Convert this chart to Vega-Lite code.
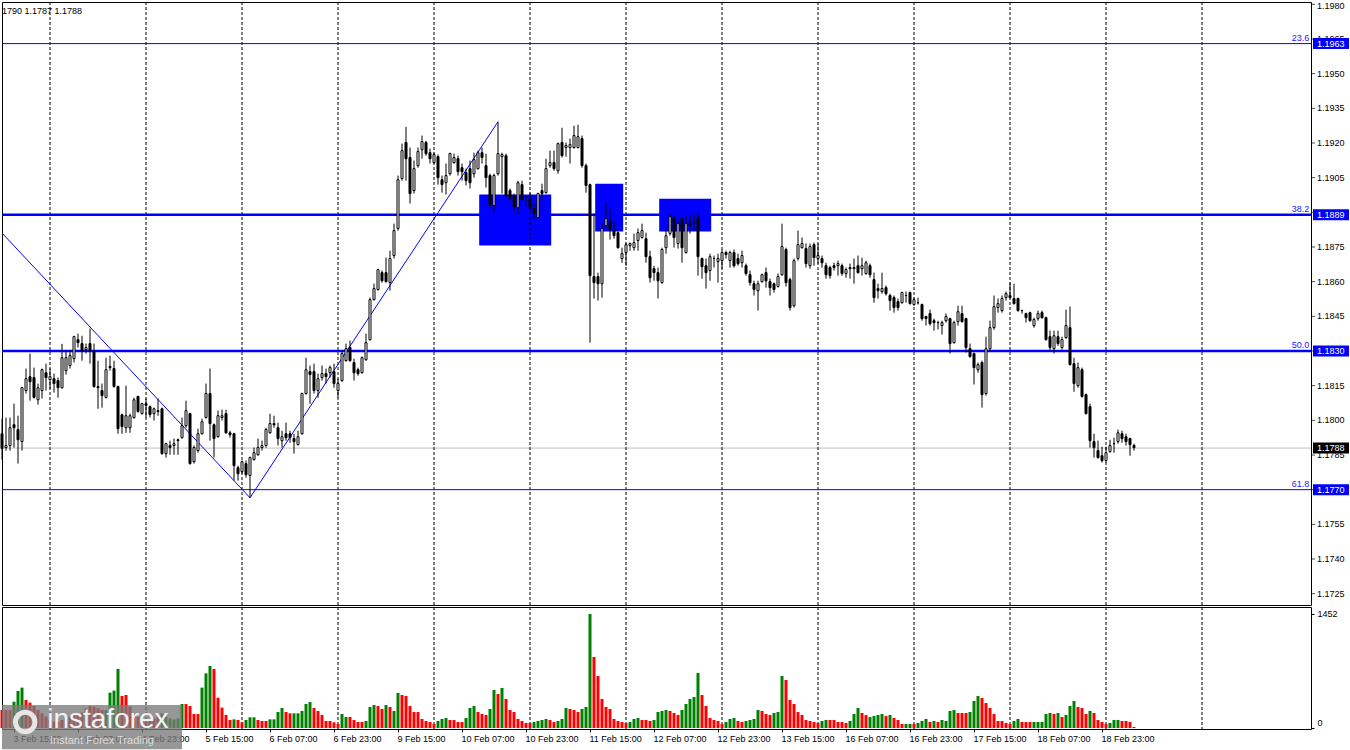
{
"$schema": "https://vega.github.io/schema/vega-lite/v6.json",
"background": "white",
"padding": {"left": 0, "top": 1, "right": 0, "bottom": 0},
"spacing": 0,
"config": {"font": "Liberation Sans", "view": {"stroke": "#000000", "strokeWidth": 1}, "scale": {"continuousPadding": 0}, "axis": {"labelFontSize": 9, "labelColor": "#000000", "tickColor": "#000000", "domain": false, "grid": false, "title": null, "labelOverlap": false}},
"datasets": {
"candles": [
{"i":0,"o":1.17942,"h":1.18007,"l":1.1783,"c":1.17878,"v":229,"g":0},
{"i":1,"o":1.17882,"h":1.18012,"l":1.17869,"c":1.17891,"v":229,"g":0},
{"i":2,"o":1.17891,"h":1.18012,"l":1.17869,"c":1.17968,"v":229,"g":0},
{"i":3,"o":1.17981,"h":1.18072,"l":1.17882,"c":1.17968,"v":335,"g":1},
{"i":4,"o":1.1796,"h":1.1802,"l":1.17813,"c":1.17916,"v":471,"g":1},
{"i":5,"o":1.17908,"h":1.18145,"l":1.17869,"c":1.18141,"v":514,"g":1},
{"i":6,"o":1.18129,"h":1.18224,"l":1.18116,"c":1.1818,"v":357,"g":0},
{"i":7,"o":1.18189,"h":1.18289,"l":1.18085,"c":1.18167,"v":323,"g":0},
{"i":8,"o":1.18185,"h":1.18228,"l":1.18094,"c":1.18099,"v":280,"g":0},
{"i":9,"o":1.18089,"h":1.18159,"l":1.18068,"c":1.18141,"v":229,"g":0},
{"i":10,"o":1.18129,"h":1.18224,"l":1.18094,"c":1.18219,"v":187,"g":0},
{"i":11,"o":1.18206,"h":1.18245,"l":1.18129,"c":1.18185,"v":144,"g":0},
{"i":12,"o":1.18176,"h":1.18224,"l":1.18137,"c":1.18189,"v":102,"g":0},
{"i":13,"o":1.1818,"h":1.18202,"l":1.1812,"c":1.18159,"v":81,"g":0},
{"i":14,"o":1.18172,"h":1.18185,"l":1.18098,"c":1.18141,"v":81,"g":0},
{"i":15,"o":1.18141,"h":1.18331,"l":1.18137,"c":1.18271,"v":102,"g":0},
{"i":16,"o":1.18215,"h":1.18302,"l":1.18198,"c":1.18271,"v":123,"g":0},
{"i":17,"o":1.18237,"h":1.18302,"l":1.18224,"c":1.1828,"v":144,"g":0},
{"i":18,"o":1.18267,"h":1.18366,"l":1.1825,"c":1.18362,"v":166,"g":0},
{"i":19,"o":1.18349,"h":1.18375,"l":1.18315,"c":1.18336,"v":187,"g":0},
{"i":20,"o":1.18332,"h":1.18366,"l":1.18258,"c":1.18302,"v":195,"g":0},
{"i":21,"o":1.18306,"h":1.18332,"l":1.18289,"c":1.18315,"v":251,"g":1},
{"i":22,"o":1.18332,"h":1.18397,"l":1.18245,"c":1.18302,"v":280,"g":0},
{"i":23,"o":1.18297,"h":1.18332,"l":1.18141,"c":1.18146,"v":272,"g":0},
{"i":24,"o":1.18146,"h":1.18258,"l":1.1805,"c":1.18141,"v":251,"g":0},
{"i":25,"o":1.18129,"h":1.18159,"l":1.18055,"c":1.18107,"v":229,"g":0},
{"i":26,"o":1.18099,"h":1.18271,"l":1.18094,"c":1.18219,"v":229,"g":1},
{"i":27,"o":1.18233,"h":1.1828,"l":1.18215,"c":1.18228,"v":450,"g":1},
{"i":28,"o":1.18224,"h":1.18258,"l":1.18141,"c":1.18146,"v":476,"g":1},
{"i":29,"o":1.18146,"h":1.1815,"l":1.17942,"c":1.17964,"v":752,"g":1},
{"i":30,"o":1.18024,"h":1.18029,"l":1.17942,"c":1.17973,"v":408,"g":0},
{"i":31,"o":1.17968,"h":1.1815,"l":1.17946,"c":1.1802,"v":420,"g":0},
{"i":32,"o":1.17968,"h":1.18029,"l":1.17946,"c":1.1802,"v":272,"g":0},
{"i":33,"o":1.18012,"h":1.18098,"l":1.18007,"c":1.18089,"v":187,"g":0},
{"i":34,"o":1.18103,"h":1.18107,"l":1.18033,"c":1.18038,"v":144,"g":0},
{"i":35,"o":1.18029,"h":1.18076,"l":1.18025,"c":1.18072,"v":102,"g":0},
{"i":36,"o":1.18072,"h":1.18094,"l":1.18012,"c":1.18064,"v":81,"g":0},
{"i":37,"o":1.18059,"h":1.18064,"l":1.18012,"c":1.18025,"v":102,"g":0},
{"i":38,"o":1.18029,"h":1.18055,"l":1.17999,"c":1.1805,"v":123,"g":0},
{"i":39,"o":1.18042,"h":1.18094,"l":1.1802,"c":1.18038,"v":144,"g":0},
{"i":40,"o":1.1805,"h":1.18055,"l":1.17851,"c":1.17856,"v":187,"g":1},
{"i":41,"o":1.17856,"h":1.17903,"l":1.17839,"c":1.17899,"v":144,"g":1},
{"i":42,"o":1.17891,"h":1.17912,"l":1.17851,"c":1.17882,"v":123,"g":1},
{"i":43,"o":1.17891,"h":1.17921,"l":1.17851,"c":1.17899,"v":110,"g":1},
{"i":44,"o":1.17916,"h":1.17921,"l":1.17851,"c":1.17912,"v":123,"g":1},
{"i":45,"o":1.17925,"h":1.18012,"l":1.17921,"c":1.17977,"v":306,"g":1},
{"i":46,"o":1.17977,"h":1.18085,"l":1.17968,"c":1.18042,"v":306,"g":0},
{"i":47,"o":1.18029,"h":1.18033,"l":1.17808,"c":1.17813,"v":280,"g":0},
{"i":48,"o":1.17821,"h":1.17891,"l":1.17813,"c":1.17882,"v":178,"g":0},
{"i":49,"o":1.17869,"h":1.17964,"l":1.1786,"c":1.17942,"v":178,"g":0},
{"i":50,"o":1.17942,"h":1.18007,"l":1.17938,"c":1.17994,"v":514,"g":1},
{"i":51,"o":1.18012,"h":1.18159,"l":1.18007,"c":1.18116,"v":696,"g":1},
{"i":52,"o":1.18116,"h":1.18224,"l":1.17912,"c":1.17986,"v":790,"g":1},
{"i":53,"o":1.17981,"h":1.17986,"l":1.17839,"c":1.17921,"v":752,"g":0},
{"i":54,"o":1.17929,"h":1.18042,"l":1.17925,"c":1.1802,"v":386,"g":0},
{"i":55,"o":1.18012,"h":1.18046,"l":1.17999,"c":1.1802,"v":259,"g":0},
{"i":56,"o":1.18029,"h":1.18046,"l":1.17942,"c":1.17946,"v":166,"g":0},
{"i":57,"o":1.17946,"h":1.17955,"l":1.17925,"c":1.17938,"v":102,"g":0},
{"i":58,"o":1.17942,"h":1.17946,"l":1.17739,"c":1.17804,"v":110,"g":1},
{"i":59,"o":1.17795,"h":1.17804,"l":1.17739,"c":1.17769,"v":102,"g":0},
{"i":60,"o":1.17778,"h":1.17826,"l":1.17769,"c":1.17821,"v":72,"g":0},
{"i":61,"o":1.17813,"h":1.17826,"l":1.17752,"c":1.17765,"v":102,"g":1},
{"i":62,"o":1.17761,"h":1.17843,"l":1.17665,"c":1.17839,"v":136,"g":1},
{"i":63,"o":1.1783,"h":1.17882,"l":1.17826,"c":1.1786,"v":136,"g":1},
{"i":64,"o":1.17851,"h":1.17921,"l":1.17847,"c":1.17882,"v":102,"g":0},
{"i":65,"o":1.17882,"h":1.17912,"l":1.17869,"c":1.17891,"v":89,"g":0},
{"i":66,"o":1.17891,"h":1.17968,"l":1.17882,"c":1.1796,"v":89,"g":0},
{"i":67,"o":1.17946,"h":1.18029,"l":1.17942,"c":1.17986,"v":110,"g":1},
{"i":68,"o":1.17986,"h":1.1802,"l":1.17968,"c":1.17981,"v":110,"g":1},
{"i":69,"o":1.17968,"h":1.1799,"l":1.17891,"c":1.17921,"v":204,"g":1},
{"i":70,"o":1.17912,"h":1.17955,"l":1.17882,"c":1.17929,"v":255,"g":1},
{"i":71,"o":1.17942,"h":1.1799,"l":1.17912,"c":1.17925,"v":204,"g":0},
{"i":72,"o":1.17942,"h":1.17955,"l":1.17903,"c":1.17925,"v":187,"g":0},
{"i":73,"o":1.17921,"h":1.17942,"l":1.17856,"c":1.17908,"v":187,"g":1},
{"i":74,"o":1.17895,"h":1.17955,"l":1.17891,"c":1.17929,"v":187,"g":1},
{"i":75,"o":1.17942,"h":1.1812,"l":1.17938,"c":1.18116,"v":217,"g":1},
{"i":76,"o":1.18116,"h":1.18271,"l":1.18111,"c":1.18219,"v":306,"g":1},
{"i":77,"o":1.18211,"h":1.18237,"l":1.18072,"c":1.18198,"v":331,"g":1},
{"i":78,"o":1.18211,"h":1.18245,"l":1.18116,"c":1.18129,"v":255,"g":0},
{"i":79,"o":1.18129,"h":1.18202,"l":1.18098,"c":1.1818,"v":217,"g":0},
{"i":80,"o":1.18185,"h":1.18237,"l":1.18172,"c":1.18202,"v":166,"g":0},
{"i":81,"o":1.18202,"h":1.18224,"l":1.18159,"c":1.18189,"v":89,"g":0},
{"i":82,"o":1.18206,"h":1.18237,"l":1.18185,"c":1.18228,"v":89,"g":0},
{"i":83,"o":1.18211,"h":1.18245,"l":1.18141,"c":1.18159,"v":72,"g":0},
{"i":84,"o":1.18129,"h":1.1818,"l":1.18098,"c":1.18159,"v":51,"g":0},
{"i":85,"o":1.18172,"h":1.18302,"l":1.18167,"c":1.18289,"v":178,"g":1},
{"i":86,"o":1.18258,"h":1.18332,"l":1.18254,"c":1.1831,"v":140,"g":1},
{"i":87,"o":1.18315,"h":1.18345,"l":1.18254,"c":1.18258,"v":140,"g":0},
{"i":88,"o":1.1825,"h":1.18267,"l":1.18172,"c":1.18206,"v":102,"g":0},
{"i":89,"o":1.18219,"h":1.18228,"l":1.18193,"c":1.18202,"v":76,"g":0},
{"i":90,"o":1.18206,"h":1.18276,"l":1.18202,"c":1.18271,"v":76,"g":0},
{"i":91,"o":1.18262,"h":1.18375,"l":1.18258,"c":1.18336,"v":89,"g":1},
{"i":92,"o":1.18349,"h":1.18531,"l":1.18345,"c":1.18522,"v":267,"g":1},
{"i":93,"o":1.18522,"h":1.18591,"l":1.18518,"c":1.1857,"v":293,"g":1},
{"i":94,"o":1.18566,"h":1.18656,"l":1.18561,"c":1.18652,"v":280,"g":0},
{"i":95,"o":1.18639,"h":1.18648,"l":1.18596,"c":1.18604,"v":242,"g":0},
{"i":96,"o":1.18639,"h":1.18704,"l":1.18596,"c":1.186,"v":293,"g":1},
{"i":97,"o":1.18596,"h":1.18734,"l":1.18561,"c":1.187,"v":267,"g":0},
{"i":98,"o":1.18713,"h":1.18851,"l":1.187,"c":1.18821,"v":217,"g":1},
{"i":99,"o":1.1883,"h":1.19059,"l":1.18821,"c":1.19041,"v":446,"g":1},
{"i":100,"o":1.19046,"h":1.19197,"l":1.19037,"c":1.19167,"v":420,"g":0},
{"i":101,"o":1.19202,"h":1.1927,"l":1.19037,"c":1.19132,"v":408,"g":0},
{"i":102,"o":1.19137,"h":1.1918,"l":1.18938,"c":1.18981,"v":280,"g":0},
{"i":103,"o":1.18994,"h":1.19124,"l":1.18981,"c":1.19089,"v":204,"g":0},
{"i":104,"o":1.19102,"h":1.1918,"l":1.19093,"c":1.19163,"v":204,"g":0},
{"i":105,"o":1.19171,"h":1.19232,"l":1.19132,"c":1.19206,"v":115,"g":0},
{"i":106,"o":1.19202,"h":1.1921,"l":1.19145,"c":1.19154,"v":89,"g":0},
{"i":107,"o":1.19158,"h":1.19176,"l":1.19111,"c":1.19132,"v":76,"g":0},
{"i":108,"o":1.19115,"h":1.19158,"l":1.19111,"c":1.1915,"v":51,"g":0},
{"i":109,"o":1.19141,"h":1.1915,"l":1.1902,"c":1.1905,"v":89,"g":1},
{"i":110,"o":1.19041,"h":1.19059,"l":1.18985,"c":1.1902,"v":115,"g":1},
{"i":111,"o":1.19028,"h":1.19111,"l":1.18977,"c":1.19059,"v":127,"g":1},
{"i":112,"o":1.19067,"h":1.19158,"l":1.19059,"c":1.19154,"v":102,"g":0},
{"i":113,"o":1.19115,"h":1.19154,"l":1.19111,"c":1.19137,"v":102,"g":0},
{"i":114,"o":1.19132,"h":1.19145,"l":1.19059,"c":1.19076,"v":76,"g":0},
{"i":115,"o":1.19093,"h":1.19111,"l":1.19037,"c":1.19076,"v":76,"g":0},
{"i":116,"o":1.19072,"h":1.19089,"l":1.19016,"c":1.19037,"v":127,"g":1},
{"i":117,"o":1.19089,"h":1.19124,"l":1.19003,"c":1.19028,"v":255,"g":1},
{"i":118,"o":1.19067,"h":1.19158,"l":1.1905,"c":1.19128,"v":280,"g":1},
{"i":119,"o":1.19089,"h":1.19167,"l":1.19085,"c":1.19158,"v":204,"g":0},
{"i":120,"o":1.19158,"h":1.1918,"l":1.19111,"c":1.19137,"v":178,"g":0},
{"i":121,"o":1.19102,"h":1.19154,"l":1.19007,"c":1.1905,"v":166,"g":0},
{"i":122,"o":1.19059,"h":1.19067,"l":1.1892,"c":1.18929,"v":242,"g":1},
{"i":123,"o":1.18929,"h":1.19067,"l":1.18899,"c":1.19059,"v":484,"g":1},
{"i":124,"o":1.19067,"h":1.19292,"l":1.19059,"c":1.19154,"v":433,"g":0},
{"i":125,"o":1.19141,"h":1.19158,"l":1.18981,"c":1.1915,"v":510,"g":1},
{"i":126,"o":1.19145,"h":1.19154,"l":1.18964,"c":1.18972,"v":369,"g":0},
{"i":127,"o":1.18994,"h":1.19003,"l":1.18951,"c":1.1896,"v":229,"g":0},
{"i":128,"o":1.18972,"h":1.18981,"l":1.18907,"c":1.18925,"v":204,"g":0},
{"i":129,"o":1.1892,"h":1.19037,"l":1.1889,"c":1.19028,"v":115,"g":0},
{"i":130,"o":1.1902,"h":1.19037,"l":1.18951,"c":1.18955,"v":89,"g":0},
{"i":131,"o":1.18955,"h":1.18972,"l":1.18929,"c":1.18955,"v":64,"g":0},
{"i":132,"o":1.1896,"h":1.18985,"l":1.18907,"c":1.1892,"v":64,"g":0},
{"i":133,"o":1.18916,"h":1.18938,"l":1.18873,"c":1.18894,"v":76,"g":1},
{"i":134,"o":1.18877,"h":1.18985,"l":1.18873,"c":1.18981,"v":89,"g":1},
{"i":135,"o":1.18994,"h":1.19024,"l":1.18951,"c":1.18981,"v":102,"g":1},
{"i":136,"o":1.18985,"h":1.19132,"l":1.18981,"c":1.19089,"v":115,"g":1},
{"i":137,"o":1.19102,"h":1.19167,"l":1.19093,"c":1.19115,"v":102,"g":0},
{"i":138,"o":1.19115,"h":1.19167,"l":1.1908,"c":1.19089,"v":76,"g":0},
{"i":139,"o":1.1908,"h":1.19202,"l":1.19067,"c":1.19197,"v":89,"g":1},
{"i":140,"o":1.19202,"h":1.19266,"l":1.19137,"c":1.19145,"v":115,"g":1},
{"i":141,"o":1.1918,"h":1.19202,"l":1.19141,"c":1.19189,"v":255,"g":1},
{"i":142,"o":1.1918,"h":1.19219,"l":1.19111,"c":1.19193,"v":242,"g":0},
{"i":143,"o":1.1918,"h":1.19275,"l":1.19176,"c":1.19232,"v":229,"g":0},
{"i":144,"o":1.1918,"h":1.19279,"l":1.19176,"c":1.19227,"v":204,"g":0},
{"i":145,"o":1.19219,"h":1.19232,"l":1.19093,"c":1.19102,"v":242,"g":1},
{"i":146,"o":1.19102,"h":1.19111,"l":1.18985,"c":1.19016,"v":267,"g":1},
{"i":147,"o":1.1902,"h":1.19024,"l":1.18336,"c":1.18626,"v":1452,"g":1},
{"i":148,"o":1.18622,"h":1.18894,"l":1.18527,"c":1.18596,"v":904,"g":0},
{"i":149,"o":1.18622,"h":1.18639,"l":1.18518,"c":1.18591,"v":662,"g":0},
{"i":150,"o":1.18591,"h":1.18851,"l":1.18531,"c":1.1883,"v":369,"g":0},
{"i":151,"o":1.18843,"h":1.18942,"l":1.18834,"c":1.18873,"v":267,"g":0},
{"i":152,"o":1.1886,"h":1.18916,"l":1.18782,"c":1.18825,"v":242,"g":0},
{"i":153,"o":1.18821,"h":1.18864,"l":1.18786,"c":1.18799,"v":115,"g":0},
{"i":154,"o":1.18812,"h":1.18817,"l":1.18743,"c":1.18747,"v":89,"g":0},
{"i":155,"o":1.187,"h":1.18747,"l":1.18682,"c":1.18721,"v":76,"g":0},
{"i":156,"o":1.18726,"h":1.18769,"l":1.18669,"c":1.1876,"v":64,"g":0},
{"i":157,"o":1.18756,"h":1.18769,"l":1.18734,"c":1.18765,"v":76,"g":1},
{"i":158,"o":1.18747,"h":1.18808,"l":1.18734,"c":1.18769,"v":115,"g":1},
{"i":159,"o":1.18778,"h":1.1883,"l":1.18734,"c":1.18812,"v":127,"g":1},
{"i":160,"o":1.18791,"h":1.18851,"l":1.18786,"c":1.18821,"v":102,"g":0},
{"i":161,"o":1.18786,"h":1.18812,"l":1.18682,"c":1.18708,"v":102,"g":0},
{"i":162,"o":1.18708,"h":1.18734,"l":1.18596,"c":1.18617,"v":89,"g":0},
{"i":163,"o":1.18656,"h":1.18669,"l":1.18604,"c":1.18639,"v":102,"g":1},
{"i":164,"o":1.18639,"h":1.18661,"l":1.18527,"c":1.18604,"v":204,"g":1},
{"i":165,"o":1.18596,"h":1.18747,"l":1.18591,"c":1.18739,"v":217,"g":1},
{"i":166,"o":1.18747,"h":1.1883,"l":1.18721,"c":1.18799,"v":229,"g":1},
{"i":167,"o":1.18808,"h":1.18894,"l":1.18799,"c":1.18881,"v":217,"g":0},
{"i":168,"o":1.18877,"h":1.18886,"l":1.18747,"c":1.18791,"v":191,"g":0},
{"i":169,"o":1.18765,"h":1.18864,"l":1.18743,"c":1.18851,"v":166,"g":0},
{"i":170,"o":1.18873,"h":1.18877,"l":1.18682,"c":1.18747,"v":229,"g":1},
{"i":171,"o":1.18726,"h":1.18886,"l":1.18721,"c":1.18851,"v":306,"g":1},
{"i":172,"o":1.18855,"h":1.18886,"l":1.18808,"c":1.18843,"v":369,"g":1},
{"i":173,"o":1.18851,"h":1.18894,"l":1.18821,"c":1.18855,"v":395,"g":1},
{"i":174,"o":1.18877,"h":1.18894,"l":1.18626,"c":1.18708,"v":701,"g":1},
{"i":175,"o":1.187,"h":1.18704,"l":1.18613,"c":1.18665,"v":420,"g":0},
{"i":176,"o":1.18669,"h":1.187,"l":1.1857,"c":1.18639,"v":280,"g":0},
{"i":177,"o":1.18648,"h":1.18721,"l":1.18604,"c":1.18708,"v":127,"g":0},
{"i":178,"o":1.187,"h":1.18713,"l":1.18661,"c":1.187,"v":102,"g":0},
{"i":179,"o":1.18687,"h":1.18721,"l":1.18596,"c":1.187,"v":89,"g":0},
{"i":180,"o":1.18691,"h":1.18739,"l":1.18656,"c":1.18726,"v":51,"g":0},
{"i":181,"o":1.18726,"h":1.18734,"l":1.187,"c":1.18717,"v":76,"g":1},
{"i":182,"o":1.18691,"h":1.18734,"l":1.18661,"c":1.18726,"v":115,"g":1},
{"i":183,"o":1.18726,"h":1.18739,"l":1.18661,"c":1.18669,"v":127,"g":1},
{"i":184,"o":1.187,"h":1.18721,"l":1.18669,"c":1.18678,"v":89,"g":0},
{"i":185,"o":1.18682,"h":1.18734,"l":1.18661,"c":1.18713,"v":76,"g":0},
{"i":186,"o":1.18669,"h":1.18678,"l":1.18626,"c":1.18635,"v":89,"g":1},
{"i":187,"o":1.1863,"h":1.18648,"l":1.18583,"c":1.18596,"v":102,"g":1},
{"i":188,"o":1.18591,"h":1.18604,"l":1.1854,"c":1.18566,"v":115,"g":1},
{"i":189,"o":1.18561,"h":1.18604,"l":1.18475,"c":1.18591,"v":229,"g":1},
{"i":190,"o":1.186,"h":1.18635,"l":1.18596,"c":1.1863,"v":217,"g":0},
{"i":191,"o":1.18639,"h":1.18661,"l":1.18574,"c":1.18604,"v":178,"g":0},
{"i":192,"o":1.186,"h":1.18613,"l":1.1854,"c":1.18574,"v":166,"g":0},
{"i":193,"o":1.18591,"h":1.18596,"l":1.18553,"c":1.18566,"v":191,"g":1},
{"i":194,"o":1.18579,"h":1.18635,"l":1.18574,"c":1.18622,"v":204,"g":1},
{"i":195,"o":1.1863,"h":1.18851,"l":1.18626,"c":1.18752,"v":662,"g":1},
{"i":196,"o":1.18739,"h":1.18747,"l":1.18579,"c":1.18596,"v":611,"g":0},
{"i":197,"o":1.18609,"h":1.18617,"l":1.18475,"c":1.18488,"v":357,"g":0},
{"i":198,"o":1.18496,"h":1.187,"l":1.18488,"c":1.18691,"v":306,"g":0},
{"i":199,"o":1.187,"h":1.18821,"l":1.18691,"c":1.1876,"v":204,"g":0},
{"i":200,"o":1.18747,"h":1.18791,"l":1.18743,"c":1.18765,"v":166,"g":0},
{"i":201,"o":1.18743,"h":1.18765,"l":1.18661,"c":1.18678,"v":102,"g":0},
{"i":202,"o":1.18669,"h":1.18765,"l":1.18656,"c":1.18752,"v":89,"g":0},
{"i":203,"o":1.1876,"h":1.18769,"l":1.18669,"c":1.18704,"v":76,"g":0},
{"i":204,"o":1.187,"h":1.18765,"l":1.18678,"c":1.18713,"v":64,"g":0},
{"i":205,"o":1.187,"h":1.18713,"l":1.18661,"c":1.18682,"v":89,"g":1},
{"i":206,"o":1.18669,"h":1.18682,"l":1.18613,"c":1.1863,"v":102,"g":1},
{"i":207,"o":1.18661,"h":1.18669,"l":1.18613,"c":1.18626,"v":102,"g":0},
{"i":208,"o":1.18669,"h":1.18682,"l":1.18648,"c":1.18661,"v":102,"g":0},
{"i":209,"o":1.18669,"h":1.18691,"l":1.18626,"c":1.18678,"v":76,"g":0},
{"i":210,"o":1.18669,"h":1.18678,"l":1.18626,"c":1.18635,"v":76,"g":0},
{"i":211,"o":1.18635,"h":1.18661,"l":1.18617,"c":1.18652,"v":64,"g":0},
{"i":212,"o":1.18661,"h":1.18678,"l":1.18613,"c":1.18656,"v":89,"g":1},
{"i":213,"o":1.18656,"h":1.187,"l":1.18591,"c":1.18661,"v":178,"g":1},
{"i":214,"o":1.18669,"h":1.18713,"l":1.18635,"c":1.18639,"v":255,"g":1},
{"i":215,"o":1.18656,"h":1.18704,"l":1.18626,"c":1.18669,"v":191,"g":0},
{"i":216,"o":1.18635,"h":1.18691,"l":1.1863,"c":1.18682,"v":166,"g":0},
{"i":217,"o":1.18669,"h":1.18678,"l":1.18617,"c":1.1863,"v":140,"g":1},
{"i":218,"o":1.18609,"h":1.18639,"l":1.18509,"c":1.18531,"v":153,"g":1},
{"i":219,"o":1.1857,"h":1.18591,"l":1.18527,"c":1.18561,"v":166,"g":1},
{"i":220,"o":1.18557,"h":1.18639,"l":1.18548,"c":1.1857,"v":178,"g":1},
{"i":221,"o":1.18574,"h":1.18583,"l":1.1854,"c":1.18548,"v":153,"g":0},
{"i":222,"o":1.1854,"h":1.18548,"l":1.18475,"c":1.18518,"v":166,"g":1},
{"i":223,"o":1.18531,"h":1.1854,"l":1.18466,"c":1.18488,"v":127,"g":0},
{"i":224,"o":1.18514,"h":1.18527,"l":1.18475,"c":1.18488,"v":102,"g":0},
{"i":225,"o":1.18509,"h":1.18557,"l":1.18505,"c":1.18553,"v":51,"g":0},
{"i":226,"o":1.1854,"h":1.18557,"l":1.18509,"c":1.1854,"v":51,"g":1},
{"i":227,"o":1.18553,"h":1.18557,"l":1.18501,"c":1.18505,"v":51,"g":1},
{"i":228,"o":1.18501,"h":1.18531,"l":1.18496,"c":1.18522,"v":51,"g":0},
{"i":229,"o":1.18509,"h":1.18531,"l":1.18501,"c":1.18509,"v":64,"g":1},
{"i":230,"o":1.18501,"h":1.18505,"l":1.18431,"c":1.1844,"v":89,"g":1},
{"i":231,"o":1.18449,"h":1.18453,"l":1.1841,"c":1.1844,"v":115,"g":1},
{"i":232,"o":1.18462,"h":1.18479,"l":1.1841,"c":1.18418,"v":76,"g":0},
{"i":233,"o":1.18431,"h":1.1844,"l":1.18388,"c":1.18423,"v":89,"g":1},
{"i":234,"o":1.18423,"h":1.18431,"l":1.18393,"c":1.18423,"v":76,"g":0},
{"i":235,"o":1.1841,"h":1.18431,"l":1.18371,"c":1.18423,"v":102,"g":1},
{"i":236,"o":1.18431,"h":1.18462,"l":1.18423,"c":1.18449,"v":89,"g":1},
{"i":237,"o":1.1844,"h":1.18444,"l":1.18289,"c":1.18332,"v":217,"g":1},
{"i":238,"o":1.18336,"h":1.18431,"l":1.18332,"c":1.18423,"v":229,"g":1},
{"i":239,"o":1.18427,"h":1.18496,"l":1.1841,"c":1.1847,"v":191,"g":0},
{"i":240,"o":1.18462,"h":1.18496,"l":1.18423,"c":1.18427,"v":191,"g":0},
{"i":241,"o":1.1844,"h":1.18444,"l":1.18293,"c":1.18315,"v":191,"g":0},
{"i":242,"o":1.1831,"h":1.18332,"l":1.18271,"c":1.18276,"v":204,"g":1},
{"i":243,"o":1.18289,"h":1.18293,"l":1.18155,"c":1.18228,"v":344,"g":1},
{"i":244,"o":1.18219,"h":1.1825,"l":1.18206,"c":1.18241,"v":408,"g":1},
{"i":245,"o":1.1825,"h":1.18258,"l":1.18055,"c":1.18111,"v":382,"g":0},
{"i":246,"o":1.18116,"h":1.18362,"l":1.18107,"c":1.1831,"v":318,"g":0},
{"i":247,"o":1.1831,"h":1.18431,"l":1.18297,"c":1.18401,"v":255,"g":0},
{"i":248,"o":1.18401,"h":1.1854,"l":1.18392,"c":1.18492,"v":178,"g":0},
{"i":249,"o":1.18488,"h":1.18527,"l":1.18466,"c":1.18505,"v":89,"g":0},
{"i":250,"o":1.18475,"h":1.1854,"l":1.18466,"c":1.18527,"v":89,"g":0},
{"i":251,"o":1.18531,"h":1.18557,"l":1.18518,"c":1.18548,"v":64,"g":0},
{"i":252,"o":1.1854,"h":1.18596,"l":1.18527,"c":1.18531,"v":51,"g":0},
{"i":253,"o":1.18527,"h":1.18591,"l":1.18501,"c":1.18505,"v":89,"g":1},
{"i":254,"o":1.18527,"h":1.18531,"l":1.1847,"c":1.18475,"v":115,"g":1},
{"i":255,"o":1.18475,"h":1.18479,"l":1.18462,"c":1.18475,"v":76,"g":0},
{"i":256,"o":1.18462,"h":1.18466,"l":1.18423,"c":1.18444,"v":76,"g":0},
{"i":257,"o":1.18466,"h":1.1847,"l":1.18427,"c":1.18431,"v":76,"g":0},
{"i":258,"o":1.1841,"h":1.18444,"l":1.18401,"c":1.18436,"v":76,"g":1},
{"i":259,"o":1.1844,"h":1.18475,"l":1.18431,"c":1.18462,"v":76,"g":1},
{"i":260,"o":1.18466,"h":1.18475,"l":1.1844,"c":1.18444,"v":76,"g":1},
{"i":261,"o":1.18444,"h":1.18449,"l":1.18345,"c":1.18349,"v":178,"g":1},
{"i":262,"o":1.18362,"h":1.18388,"l":1.18302,"c":1.18315,"v":191,"g":1},
{"i":263,"o":1.1831,"h":1.18388,"l":1.18289,"c":1.18366,"v":178,"g":0},
{"i":264,"o":1.18362,"h":1.18388,"l":1.18323,"c":1.18332,"v":191,"g":1},
{"i":265,"o":1.18315,"h":1.18362,"l":1.18306,"c":1.18349,"v":140,"g":0},
{"i":266,"o":1.18358,"h":1.18479,"l":1.18353,"c":1.1841,"v":166,"g":1},
{"i":267,"o":1.18401,"h":1.18492,"l":1.18237,"c":1.18241,"v":280,"g":1},
{"i":268,"o":1.18245,"h":1.18271,"l":1.18124,"c":1.18159,"v":344,"g":1},
{"i":269,"o":1.1815,"h":1.1825,"l":1.18141,"c":1.18228,"v":267,"g":0},
{"i":270,"o":1.18219,"h":1.18228,"l":1.18098,"c":1.18103,"v":255,"g":0},
{"i":271,"o":1.18111,"h":1.18116,"l":1.18025,"c":1.18029,"v":178,"g":0},
{"i":272,"o":1.18059,"h":1.18072,"l":1.17882,"c":1.17912,"v":217,"g":1},
{"i":273,"o":1.17908,"h":1.17942,"l":1.17839,"c":1.17882,"v":191,"g":0},
{"i":274,"o":1.17869,"h":1.17912,"l":1.17834,"c":1.17839,"v":102,"g":0},
{"i":275,"o":1.17847,"h":1.17886,"l":1.17817,"c":1.17826,"v":76,"g":0},
{"i":276,"o":1.17826,"h":1.17886,"l":1.17817,"c":1.1786,"v":51,"g":0},
{"i":277,"o":1.17865,"h":1.17916,"l":1.1786,"c":1.17891,"v":64,"g":1},
{"i":278,"o":1.17899,"h":1.17925,"l":1.1786,"c":1.17899,"v":102,"g":1},
{"i":279,"o":1.17908,"h":1.1796,"l":1.17899,"c":1.17946,"v":102,"g":1},
{"i":280,"o":1.17942,"h":1.17955,"l":1.17903,"c":1.17921,"v":89,"g":0},
{"i":281,"o":1.17929,"h":1.17942,"l":1.17891,"c":1.17908,"v":89,"g":0},
{"i":282,"o":1.17921,"h":1.17925,"l":1.17847,"c":1.17895,"v":76,"g":0},
{"i":283,"o":1.17891,"h":1.17899,"l":1.17869,"c":1.17882,"v":13,"g":0}
],
"grid": [{"k":12},{"k":36},{"k":60},{"k":84},{"k":108},{"k":132},{"k":156},{"k":180},{"k":204},{"k":228},{"k":252},{"k":276},{"k":300}],
"fib": [{"p":1.1963,"lbl":"23.6"},{"p":1.1889,"lbl":"38.2"},{"p":1.183,"lbl":"50.0"},{"p":1.177,"lbl":"61.8"}],
"tags": [{"p":1.1963},{"p":1.1889},{"p":1.183},{"p":1.177},{"p":1.1788}],
"ticks": [{"p":1.1725},{"p":1.174},{"p":1.1755},{"p":1.177},{"p":1.1785},{"p":1.18},{"p":1.1815},{"p":1.183},{"p":1.1845},{"p":1.186},{"p":1.1875},{"p":1.189},{"p":1.1905},{"p":1.192},{"p":1.1935},{"p":1.195},{"p":1.1965},{"p":1.198}],
"zigzag": [{"i":-1,"p":1.18829},{"i":62,"p":1.17665},{"i":124,"p":1.19292}],
"zones": [{"i1":119.3,"i2":137.3,"p1":1.18977,"p2":1.18756},{"i1":148.3,"i2":155.3,"p1":1.19024,"p2":1.18817},{"i1":164.3,"i2":177.3,"p1":1.18959,"p2":1.18817}]
},
"vconcat": [
{
"width": 1309,
"height": 603,
"resolve": {"axis": {"x": "independent", "y": "independent"}},
"layer": [
{"data": {"name": "zones"}, "mark": {"type": "rect", "fill": "#0000ff", "clip": true},
 "encoding": {"x": {"field": "i1", "type": "quantitative", "scale": {"domain": [0, 327.25], "nice": false, "zero": false, "padding": 0}, "axis": null}, "x2": {"field": "i2"},
  "y": {"field": "p1", "type": "quantitative", "scale": {"domain": [1.17201, 1.1981], "nice": false, "zero": false, "padding": 0}, "axis": null}, "y2": {"field": "p2"}}},
{"data": {"values": [{"p": 1.1788}]}, "mark": {"type": "rule", "color": "#c0c0c0", "strokeWidth": 1},
 "encoding": {"y": {"field": "p", "type": "quantitative", "scale": {"domain": [1.17201, 1.1981], "nice": false, "zero": false, "padding": 0}, "axis": null}}},
{"data": {"name": "grid"}, "mark": {"type": "rule", "color": "#000000", "strokeWidth": 1, "strokeDash": [3, 2]},
 "encoding": {"x": {"field": "k", "type": "quantitative", "scale": {"domain": [0, 327.25], "nice": false, "zero": false, "padding": 0}, "axis": null}}},
{"data": {"name": "fib"}, "mark": {"type": "rule", "color": "#0000ff"},
 "encoding": {"y": {"field": "p", "type": "quantitative", "scale": {"domain": [1.17201, 1.1981], "nice": false, "zero": false, "padding": 0}, "axis": null},
  "strokeWidth": {"condition": {"test": "datum.lbl == '38.2' || datum.lbl == '50.0'", "value": 2.5}, "value": 1}}},
{"data": {"name": "zigzag"}, "mark": {"type": "line", "color": "#0000ff", "strokeWidth": 1, "clip": true},
 "encoding": {"x": {"field": "i", "type": "quantitative", "scale": {"domain": [0, 327.25], "nice": false, "zero": false, "padding": 0}, "axis": null},
  "y": {"field": "p", "type": "quantitative", "scale": {"domain": [1.17201, 1.1981], "nice": false, "zero": false, "padding": 0}, "axis": null}, "order": {"field": "i"}}},
{"data": {"name": "candles"}, "mark": {"type": "rule", "color": "#000000", "strokeWidth": 1},
 "encoding": {"x": {"field": "i", "type": "quantitative", "scale": {"domain": [0, 327.25], "nice": false, "zero": false, "padding": 0}, "axis": null},
  "y": {"field": "l", "type": "quantitative", "scale": {"domain": [1.17201, 1.1981], "nice": false, "zero": false, "padding": 0}, "axis": null}, "y2": {"field": "h"}}},
{"data": {"name": "candles"}, "mark": {"type": "bar", "orient": "vertical", "width": 2, "stroke": "#000000", "strokeWidth": 1},
 "encoding": {"x": {"field": "i", "type": "quantitative", "scale": {"domain": [0, 327.25], "nice": false, "zero": false, "padding": 0}, "axis": null},
  "y": {"field": "o", "type": "quantitative", "scale": {"domain": [1.17201, 1.1981], "nice": false, "zero": false, "padding": 0}, "axis": null},
  "y2": {"field": "c"},
  "fill": {"condition": {"test": "datum.c > datum.o", "value": "#ffffff"}, "value": "#000000"}}},
{"data": {"name": "ticks"}, "transform": [{"filter": "datum.p < 1.197 && datum.p != 1.177 && datum.p != 1.183 && datum.p != 1.189"}],
 "mark": {"type": "text", "align": "left", "baseline": "middle", "color": "#000000", "fontSize": 9, "clip": false},
 "encoding": {"x": {"datum": 328.75, "type": "quantitative", "scale": {"domain": [0, 327.25], "nice": false, "zero": false, "padding": 0}, "axis": null},
  "y": {"field": "p", "type": "quantitative", "scale": {"domain": [1.17201, 1.1981], "nice": false, "zero": false, "padding": 0}, "axis": null},
  "text": {"field": "p", "type": "quantitative", "format": ".4f"}}},
{"data": {"name": "ticks"}, "transform": [{"filter": "datum.p > 1.197"}],
 "mark": {"type": "text", "align": "left", "baseline": "top", "dy": -2, "color": "#000000", "fontSize": 9, "clip": false},
 "encoding": {"x": {"datum": 328.75, "type": "quantitative", "scale": {"domain": [0, 327.25], "nice": false, "zero": false, "padding": 0}, "axis": null},
  "y": {"field": "p", "type": "quantitative", "scale": {"domain": [1.17201, 1.1981], "nice": false, "zero": false, "padding": 0}, "axis": null},
  "text": {"field": "p", "type": "quantitative", "format": ".4f"}}},
{"data": {"name": "ticks"}, "mark": {"type": "tick", "orient": "horizontal", "thickness": 1, "size": 4, "color": "#000000", "clip": false},
 "encoding": {"x": {"datum": 327.75, "type": "quantitative", "scale": {"domain": [0, 327.25], "nice": false, "zero": false, "padding": 0}, "axis": null},
  "y": {"field": "p", "type": "quantitative", "scale": {"domain": [1.17201, 1.1981], "nice": false, "zero": false, "padding": 0}, "axis": null}}},
{"data": {"name": "fib"}, "mark": {"type": "text", "align": "right", "baseline": "bottom", "dy": -1, "color": "#2020ff", "fontSize": 9},
 "encoding": {"x": {"datum": 326.8, "type": "quantitative", "scale": {"domain": [0, 327.25], "nice": false, "zero": false, "padding": 0}, "axis": null},
  "y": {"field": "p", "type": "quantitative", "scale": {"domain": [1.17201, 1.1981], "nice": false, "zero": false, "padding": 0}, "axis": null}, "text": {"field": "lbl"}}},
{"data": {"name": "tags"}, "mark": {"type": "tick", "orient": "horizontal", "thickness": 11, "size": 36, "clip": false, "opacity": 1},
 "encoding": {"x": {"datum": 332.25, "type": "quantitative", "scale": {"domain": [0, 327.25], "nice": false, "zero": false, "padding": 0}, "axis": null},
  "y": {"field": "p", "type": "quantitative", "scale": {"domain": [1.17201, 1.1981], "nice": false, "zero": false, "padding": 0}, "axis": null},
  "color": {"condition": {"test": "datum.p == 1.1788", "value": "#000000"}, "value": "#0000ff"}}},
{"data": {"name": "tags"}, "mark": {"type": "text", "align": "left", "baseline": "middle", "color": "#ffffff", "fontSize": 9, "clip": false},
 "encoding": {"x": {"datum": 328.75, "type": "quantitative", "scale": {"domain": [0, 327.25], "nice": false, "zero": false, "padding": 0}, "axis": null},
  "y": {"field": "p", "type": "quantitative", "scale": {"domain": [1.17201, 1.1981], "nice": false, "zero": false, "padding": 0}, "axis": null},
  "text": {"field": "p", "type": "quantitative", "format": ".4f"}}},
{"data": {"values": [{"t": "1790 1.1787 1.1788"}]}, "mark": {"type": "text", "align": "left", "baseline": "middle", "color": "#000000", "fontSize": 9},
 "encoding": {"x": {"datum": 0, "type": "quantitative", "scale": {"domain": [0, 327.25], "nice": false, "zero": false, "padding": 0}, "axis": null},
  "y": {"datum": 1.1977, "type": "quantitative", "scale": {"domain": [1.17201, 1.1981], "nice": false, "zero": false, "padding": 0}, "axis": null},
  "text": {"field": "t"}}}
]
},
{
"width": 1309,
"height": 122,
"resolve": {"axis": {"x": "independent", "y": "independent"}},
"layer": [
{"data": {"name": "grid"}, "mark": {"type": "rule", "color": "#000000", "strokeWidth": 1, "strokeDash": [3, 2]},
 "encoding": {"x": {"field": "k", "type": "quantitative", "scale": {"domain": [0, 327.25], "nice": false, "zero": false, "padding": 0}, "axis": null}}},
{"data": {"name": "candles"}, "mark": {"type": "bar", "orient": "vertical", "width": 3},
 "encoding": {"x": {"field": "i", "type": "quantitative", "scale": {"domain": [0, 327.25], "nice": false, "zero": false, "padding": 0},
   "axis": {"orient": "bottom", "values": [3, 19, 35, 51, 67, 83, 99, 115, 131, 147, 163, 179, 195, 211, 227, 243, 259, 275],
    "labelExpr": "['3 Feb 15:00','4 Feb 07:00','4 Feb 23:00','5 Feb 15:00','6 Feb 07:00','6 Feb 23:00','9 Feb 15:00','10 Feb 07:00','10 Feb 23:00','11 Feb 15:00','12 Feb 07:00','12 Feb 23:00','13 Feb 15:00','16 Feb 07:00','16 Feb 23:00','17 Feb 15:00','18 Feb 07:00','18 Feb 23:00'][round((datum.value-3)/16)]",
    "labelAlign": "left", "labelOverlap": false, "labelFlush": false, "labelPadding": 2, "labelOffset": -1, "tickSize": 3, "title": null, "domain": false, "grid": false, "labelFontSize": 9}},
  "y": {"field": "v", "type": "quantitative", "scale": {"domain": [-13, 1541], "nice": false, "zero": false, "padding": 0},
   "axis": {"orient": "right", "values": [0, 1452], "format": "d", "tickSize": 3, "labelPadding": 3, "title": null, "domain": false, "grid": false, "labelFontSize": 9, "labelOverlap": false,
    "labelBaseline": {"condition": {"test": "datum.value == 0", "value": "bottom"}, "value": "middle"}}},
  "y2": {"datum": 0},
  "color": {"condition": {"test": "datum.g == 1", "value": "#008000"}, "value": "#ff0000"}}},
{"data": {"values": [{}]}, "mark": {"type": "rect", "fill": "#7a7a7a", "opacity": 0.78, "clip": false},
 "encoding": {"x": {"datum": 0, "type": "quantitative", "scale": {"domain": [0, 327.25], "nice": false, "zero": false, "padding": 0}, "axis": null}, "x2": {"datum": 45},
  "y": {"datum": 293, "type": "quantitative", "scale": {"domain": [-13, 1541], "nice": false, "zero": false, "padding": 0}, "axis": null}, "y2": {"datum": -270}}},
{"data": {"values": [{}]}, "mark": {"type": "point", "shape": "circle", "size": 380, "filled": false, "stroke": "#e6e6e6", "strokeWidth": 5, "opacity": 1, "clip": false},
 "encoding": {"x": {"datum": 5.8, "type": "quantitative", "scale": {"domain": [0, 327.25], "nice": false, "zero": false, "padding": 0}, "axis": null},
  "y": {"datum": 76, "type": "quantitative", "scale": {"domain": [-13, 1541], "nice": false, "zero": false, "padding": 0}, "axis": null}}},
{"data": {"values": [{"t": "instaforex"}]}, "mark": {"type": "text", "align": "left", "baseline": "middle", "color": "#f2f2f2", "fontSize": 28, "clip": false},
 "encoding": {"x": {"datum": 11.3, "type": "quantitative", "scale": {"domain": [0, 327.25], "nice": false, "zero": false, "padding": 0}, "axis": null},
  "y": {"datum": 102, "type": "quantitative", "scale": {"domain": [-13, 1541], "nice": false, "zero": false, "padding": 0}, "axis": null}, "text": {"field": "t"}}},
{"data": {"values": [{"t": "Instant Forex Trading"}]}, "mark": {"type": "text", "align": "left", "baseline": "middle", "color": "#dcdcdc", "fontSize": 11, "clip": false},
 "encoding": {"x": {"datum": 12, "type": "quantitative", "scale": {"domain": [0, 327.25], "nice": false, "zero": false, "padding": 0}, "axis": null},
  "y": {"datum": -166, "type": "quantitative", "scale": {"domain": [-13, 1541], "nice": false, "zero": false, "padding": 0}, "axis": null}, "text": {"field": "t"}}}
]
}
]
}
